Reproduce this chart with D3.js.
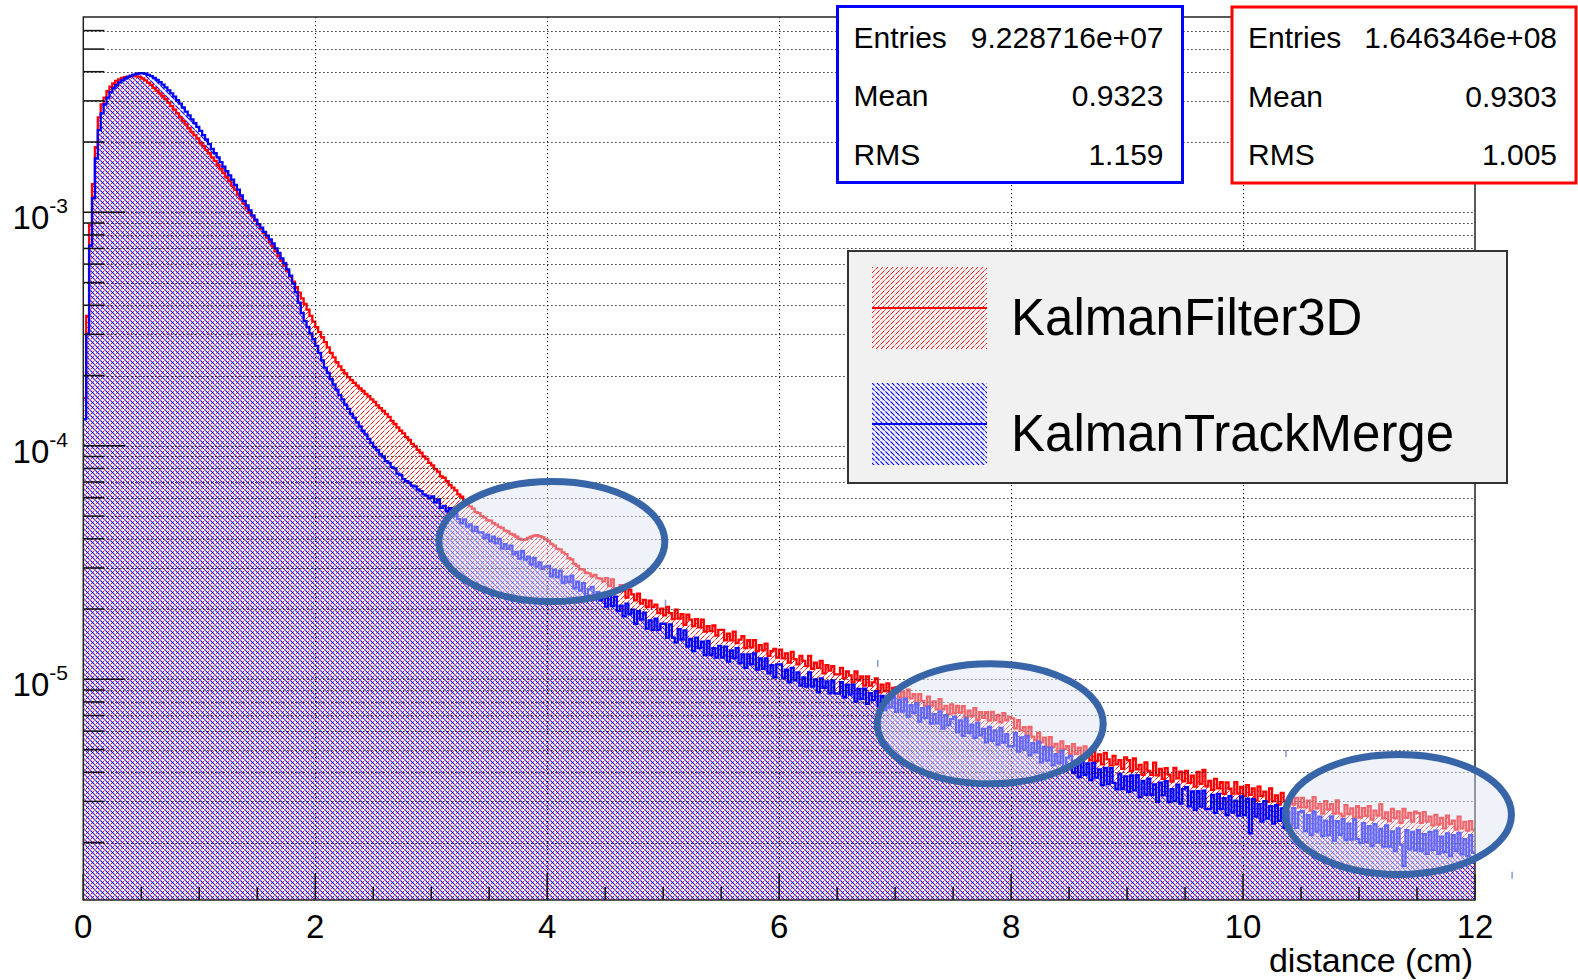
<!DOCTYPE html>
<html>
<head>
<meta charset="utf-8">
<script src="https://cdn.jsdelivr.net/npm/d3@7"></script>
<style>
    body { margin: 0; background: #ffffff; }
    svg { display: block; font-family: "Liberation Sans", Arial, Helvetica, sans-serif; }
</style>
</head>
<body>
<svg id="chart" width="1578" height="980"></svg>
<script>
var width = 1578,
    height = 980;

// histogram binning (cm)
var binWidth = 0.025;
var xDomain = [0, 12];
var yDomain = [1.135e-6, 6.86e-3];

// KalmanFilter3D (red), one value per 0.025 cm bin, 20 bins per line
var redValues = [
    1.6e-4, 3.6e-4, 8.8e-4, 1.32e-3, 1.9e-3, 2.55e-3, 2.9e-3, 3.1e-3, 3.3e-3, 3.45e-3, 3.56e-3, 3.65e-3, 3.71e-3, 3.76e-3, 3.79e-3, 3.81e-3, 3.83e-3, 3.84e-3, 3.82e-3, 3.79e-3,
    3.74e-3, 3.67e-3, 3.59e-3, 3.51e-3, 3.41e-3, 3.32e-3, 3.23e-3, 3.14e-3, 3.05e-3, 2.95e-3, 2.85e-3, 2.75e-3, 2.65e-3, 2.55e-3, 2.46e-3, 2.38e-3, 2.29e-3, 2.21e-3, 2.14e-3, 2.07e-3,
    1.98e-3, 1.92e-3, 1.85e-3, 1.79e-3, 1.72e-3, 1.66e-3, 1.59e-3, 1.53e-3, 1.47e-3, 1.41e-3, 1.36e-3, 1.3e-3, 1.25e-3, 1.19e-3, 1.14e-3, 1.09e-3, 1.04e-3, 9.95e-4, 9.6e-4, 9.2e-4,
    8.85e-4, 8.5e-4, 8.15e-4, 7.8e-4, 7.45e-4, 7.15e-4, 6.8e-4, 6.5e-4, 6.2e-4, 5.9e-4, 5.6e-4, 5.3e-4, 5.05e-4, 4.78e-4, 4.53e-4, 4.28e-4, 4.05e-4, 3.83e-4, 3.6e-4, 3.4e-4,
    3.22e-4, 3.07e-4, 2.92e-4, 2.78e-4, 2.64e-4, 2.5e-4, 2.39e-4, 2.28e-4, 2.19e-4, 2.11e-4, 2.04e-4, 1.97e-4, 1.91e-4, 1.86e-4, 1.81e-4, 1.76e-4, 1.72e-4, 1.67e-4, 1.63e-4, 1.58e-4,
    1.54e-4, 1.49e-4, 1.45e-4, 1.41e-4, 1.37e-4, 1.33e-4, 1.28e-4, 1.24e-4, 1.2e-4, 1.16e-4, 1.13e-4, 1.09e-4, 1.06e-4, 1.02e-4, 9.95e-5, 9.6e-5, 9.35e-5, 9.0e-5, 8.8e-5, 8.45e-5,
    8.25e-5, 7.95e-5, 7.75e-5, 7.4e-5, 7.3e-5, 7.05e-5, 6.8e-5, 6.62e-5, 6.45e-5, 6.2e-5, 6.05e-5, 5.8e-5, 5.7e-5, 5.5e-5, 5.38e-5, 5.2e-5, 5.15e-5, 5.0e-5, 4.93e-5, 4.8e-5,
    4.78e-5, 4.66e-5, 4.6e-5, 4.5e-5, 4.45e-5, 4.33e-5, 4.3e-5, 4.2e-5, 4.16e-5, 4.08e-5, 4.0e-5, 3.96e-5, 3.97e-5, 4.03e-5, 4.08e-5, 4.12e-5, 4.14e-5, 4.1e-5, 4.06e-5, 3.98e-5,
    3.92e-5, 3.8e-5, 3.74e-5, 3.62e-5, 3.6e-5, 3.5e-5, 3.44e-5, 3.3e-5, 3.26e-5, 3.12e-5, 3.06e-5, 2.96e-5, 2.95e-5, 2.86e-5, 2.84e-5, 2.76e-5, 2.8e-5, 2.71e-5, 2.7e-5, 2.63e-5,
    2.71e-5, 2.51e-5, 2.68e-5, 2.46e-5, 2.37e-5, 2.53e-5, 2.4e-5, 2.24e-5, 2.42e-5, 2.31e-5, 2.18e-5, 2.33e-5, 2.11e-5, 2.19e-5, 2.04e-5, 2.17e-5, 2.04e-5, 2.09e-5, 1.92e-5, 2.01e-5,
    1.88e-5, 2.04e-5, 1.92e-5, 1.81e-5, 1.99e-5, 1.82e-5, 1.9e-5, 1.71e-5, 1.89e-5, 1.8e-5, 1.69e-5, 1.81e-5, 1.67e-5, 1.8e-5, 1.6e-5, 1.69e-5, 1.61e-5, 1.7e-5, 1.54e-5, 1.63e-5,
    1.63e-5, 1.47e-5, 1.57e-5, 1.47e-5, 1.6e-5, 1.43e-5, 1.48e-5, 1.53e-5, 1.36e-5, 1.47e-5, 1.37e-5, 1.47e-5, 1.32e-5, 1.4e-5, 1.33e-5, 1.42e-5, 1.26e-5, 1.32e-5, 1.35e-5, 1.24e-5,
    1.34e-5, 1.23e-5, 1.29e-5, 1.18e-5, 1.31e-5, 1.22e-5, 1.16e-5, 1.26e-5, 1.2e-5, 1.14e-5, 1.26e-5, 1.11e-5, 1.18e-5, 1.12e-5, 1.2e-5, 1.06e-5, 1.15e-5, 1.09e-5, 1.14e-5, 1.05e-5,
    1.05e-5, 1.12e-5, 1.01e-5, 1.08e-5, 1.04e-5, 9.7e-6, 1.08e-5, 9.9e-6, 1.03e-5, 9.4e-6, 1.03e-5, 9.4e-6, 9.7e-6, 1.01e-5, 8.8e-6, 9.5e-6, 8.9e-6, 9.6e-6, 8.6e-6, 9.2e-6,
    9.24e-6, 8.38e-6, 8.83e-6, 8.16e-6, 9.03e-6, 8.28e-6, 8.63e-6, 7.81e-6, 8.65e-6, 8.09e-6, 7.7e-6, 8.43e-6, 7.72e-6, 8.05e-6, 7.43e-6, 8.22e-6, 7.45e-6, 7.69e-6, 7.1e-6, 7.8e-6,
    7.15e-6, 7.7e-6, 7.2e-6, 7.67e-6, 6.89e-6, 7.34e-6, 6.94e-6, 7.53e-6, 6.71e-6, 7.23e-6, 6.84e-6, 7.23e-6, 6.65e-6, 7.26e-6, 6.69e-6, 7.04e-6, 6.55e-6, 7.16e-6, 6.68e-6, 6.9e-6,
    6.8e-6, 6.16e-6, 6.68e-6, 6.05e-6, 6.24e-6, 5.64e-6, 6.25e-6, 5.68e-6, 5.48e-6, 5.9e-6, 5.37e-6, 5.63e-6, 5.13e-6, 5.66e-6, 5.13e-6, 5.29e-6, 4.89e-6, 5.42e-6, 5.02e-6, 5.18e-6,
    4.78e-6, 5.28e-6, 4.79e-6, 5.1e-6, 4.57e-6, 5.16e-6, 4.73e-6, 4.5e-6, 4.94e-6, 4.47e-6, 4.77e-6, 4.32e-6, 4.84e-6, 4.54e-6, 4.28e-6, 4.7e-6, 4.32e-6, 4.51e-6, 4.14e-6, 4.63e-6,
    4.51e-6, 4.05e-6, 4.58e-6, 4.12e-6, 4.3e-6, 3.9e-6, 4.41e-6, 4.05e-6, 3.9e-6, 4.4e-6, 3.88e-6, 4.13e-6, 3.75e-6, 4.17e-6, 3.91e-6, 3.65e-6, 4.18e-6, 3.77e-6, 4.02e-6, 3.66e-6,
    4.05e-6, 3.6e-6, 3.87e-6, 3.47e-6, 4.01e-6, 3.57e-6, 4.09e-6, 3.48e-6, 3.67e-6, 3.36e-6, 3.75e-6, 3.41e-6, 3.63e-6, 3.23e-6, 3.62e-6, 3.4e-6, 3.24e-6, 3.63e-6, 3.24e-6, 3.46e-6,
    3.17e-6, 3.52e-6, 3.2e-6, 3.41e-6, 3.03e-6, 3.47e-6, 3.16e-6, 3.3e-6, 2.99e-6, 3.41e-6, 3.01e-6, 3.18e-6, 2.91e-6, 3.26e-6, 3.0e-6, 2.83e-6, 3.17e-6, 2.91e-6, 3.11e-6, 2.83e-6,
    3.11e-6, 2.83e-6, 3.02e-6, 2.74e-6, 3.13e-6, 2.8e-6, 2.93e-6, 2.66e-6, 3.01e-6, 2.77e-6, 2.92e-6, 2.66e-6, 3.03e-6, 2.66e-6, 2.59e-6, 2.89e-6, 2.65e-6, 2.8e-6, 2.55e-6, 2.86e-6,
    2.56e-6, 2.81e-6, 2.6e-6, 2.86e-6, 2.51e-6, 2.74e-6, 2.61e-6, 2.92e-6, 2.54e-6, 2.69e-6, 2.47e-6, 2.79e-6, 2.54e-6, 2.72e-6, 2.43e-6, 2.79e-6, 2.55e-6, 2.68e-6, 2.46e-6, 2.71e-6,
    2.67e-6, 2.43e-6, 2.7e-6, 2.46e-6, 2.58e-6, 2.37e-6, 2.63e-6, 2.39e-6, 2.55e-6, 2.3e-6, 2.61e-6, 2.4e-6, 2.48e-6, 2.27e-6, 2.58e-6, 2.3e-6, 2.45e-6, 2.25e-6, 2.47e-6, 2.27e-6
];

// KalmanTrackMerge (blue), one value per 0.025 cm bin, 20 bins per line
var blueValues = [
    1.3e-4, 3.0e-4, 7.2e-4, 1.15e-3, 1.7e-3, 2.25e-3, 2.65e-3, 2.9e-3, 3.1e-3, 3.27e-3, 3.4e-3, 3.5e-3, 3.6e-3, 3.67e-3, 3.74e-3, 3.8e-3, 3.85e-3, 3.89e-3, 3.92e-3, 3.94e-3,
    3.94e-3, 3.92e-3, 3.88e-3, 3.83e-3, 3.76e-3, 3.69e-3, 3.61e-3, 3.52e-3, 3.43e-3, 3.33e-3, 3.23e-3, 3.13e-3, 3.02e-3, 2.92e-3, 2.81e-3, 2.7e-3, 2.6e-3, 2.5e-3, 2.41e-3, 2.32e-3,
    2.23e-3, 2.14e-3, 2.05e-3, 1.96e-3, 1.87e-3, 1.79e-3, 1.72e-3, 1.64e-3, 1.57e-3, 1.5e-3, 1.44e-3, 1.38e-3, 1.31e-3, 1.25e-3, 1.18e-3, 1.12e-3, 1.07e-3, 1.02e-3, 9.7e-4, 9.3e-4,
    8.9e-4, 8.6e-4, 8.25e-4, 7.95e-4, 7.65e-4, 7.35e-4, 7.0e-4, 6.7e-4, 6.35e-4, 6.05e-4, 5.7e-4, 5.35e-4, 4.95e-4, 4.55e-4, 4.1e-4, 3.7e-4, 3.42e-4, 3.22e-4, 3.03e-4, 2.86e-4,
    2.68e-4, 2.5e-4, 2.32e-4, 2.16e-4, 2.05e-4, 1.93e-4, 1.83e-4, 1.74e-4, 1.65e-4, 1.58e-4, 1.5e-4, 1.44e-4, 1.37e-4, 1.32e-4, 1.26e-4, 1.21e-4, 1.16e-4, 1.12e-4, 1.07e-4, 1.03e-4,
    9.9e-5, 9.6e-5, 9.2e-5, 9.0e-5, 8.6e-5, 8.45e-5, 8.1e-5, 8.0e-5, 7.6e-5, 7.5e-5, 7.2e-5, 7.05e-5, 6.95e-5, 6.75e-5, 6.7e-5, 6.5e-5, 6.4e-5, 6.2e-5, 6.12e-5, 5.95e-5,
    6.07e-5, 5.73e-5, 5.89e-5, 5.43e-5, 5.53e-5, 5.24e-5, 5.41e-5, 4.97e-5, 5.12e-5, 4.85e-5, 4.66e-5, 4.84e-5, 4.51e-5, 4.61e-5, 4.31e-5, 4.5e-5, 4.26e-5, 4.26e-5, 4.03e-5, 4.16e-5,
    3.9e-5, 4.08e-5, 3.82e-5, 3.99e-5, 3.63e-5, 3.79e-5, 3.62e-5, 3.74e-5, 3.43e-5, 3.51e-5, 3.29e-5, 3.55e-5, 3.26e-5, 3.35e-5, 3.1e-5, 3.31e-5, 3.04e-5, 3.17e-5, 2.97e-5, 3.04e-5,
    3.06e-5, 2.76e-5, 2.95e-5, 2.74e-5, 2.92e-5, 2.58e-5, 2.75e-5, 2.61e-5, 2.78e-5, 2.45e-5, 2.62e-5, 2.4e-5, 2.58e-5, 2.27e-5, 2.43e-5, 2.49e-5, 2.2e-5, 2.36e-5, 2.18e-5, 2.3e-5,
    2.05e-5, 2.28e-5, 2.06e-5, 2.26e-5, 1.96e-5, 2.07e-5, 1.86e-5, 2.11e-5, 1.9e-5, 1.99e-5, 1.73e-5, 1.96e-5, 1.8e-5, 1.93e-5, 1.65e-5, 1.79e-5, 1.63e-5, 1.82e-5, 1.63e-5, 1.73e-5,
    1.73e-5, 1.51e-5, 1.72e-5, 1.51e-5, 1.44e-5, 1.64e-5, 1.48e-5, 1.62e-5, 1.38e-5, 1.49e-5, 1.32e-5, 1.51e-5, 1.36e-5, 1.45e-5, 1.27e-5, 1.46e-5, 1.27e-5, 1.36e-5, 1.24e-5, 1.39e-5,
    1.24e-5, 1.38e-5, 1.19e-5, 1.33e-5, 1.23e-5, 1.36e-5, 1.17e-5, 1.28e-5, 1.12e-5, 1.28e-5, 1.16e-5, 1.29e-5, 1.1e-5, 1.23e-5, 1.11e-5, 1.23e-5, 1.06e-5, 1.15e-5, 1.02e-5, 1.16e-5,
    1.16e-5, 1.01e-5, 1.1e-5, 9.7e-6, 1.12e-5, 9.9e-6, 1.07e-5, 9.4e-6, 1.02e-5, 9.3e-6, 1.07e-5, 9.3e-6, 1.0e-5, 8.8e-6, 1.01e-5, 9.2e-6, 9.8e-6, 8.7e-6, 9.9e-6, 8.7e-6,
    8.69e-6, 9.72e-6, 8.38e-6, 9.48e-6, 8.6e-6, 9.5e-6, 8.03e-6, 9.09e-6, 8.25e-6, 9.12e-6, 7.86e-6, 8.72e-6, 8.14e-6, 8.9e-6, 7.68e-6, 8.5e-6, 7.39e-6, 8.45e-6, 7.59e-6, 8.4e-6,
    7.25e-6, 8.19e-6, 7.28e-6, 8.27e-6, 6.92e-6, 7.75e-6, 7.16e-6, 7.89e-6, 6.59e-6, 7.53e-6, 6.82e-6, 7.66e-6, 6.47e-6, 7.1e-6, 6.48e-6, 7.29e-6, 6.15e-6, 7.02e-6, 6.36e-6, 6.76e-6,
    6.9e-6, 5.95e-6, 6.67e-6, 5.73e-6, 6.81e-6, 5.89e-6, 6.4e-6, 5.61e-6, 6.53e-6, 5.76e-6, 6.13e-6, 5.37e-6, 6.26e-6, 5.45e-6, 6.05e-6, 5.26e-6, 6.19e-6, 5.36e-6, 5.82e-6, 5.17e-6,
    5.17e-6, 5.88e-6, 4.9e-6, 5.64e-6, 5.0e-6, 5.72e-6, 4.73e-6, 5.33e-6, 4.87e-6, 5.41e-6, 4.41e-6, 5.13e-6, 4.49e-6, 5.1e-6, 4.29e-6, 4.78e-6, 4.37e-6, 4.95e-6, 4.05e-6, 4.62e-6,
    4.7e-6, 3.97e-6, 4.48e-6, 3.81e-6, 4.61e-6, 3.9e-6, 4.36e-6, 3.7e-6, 4.39e-6, 3.79e-6, 4.11e-6, 3.52e-6, 4.18e-6, 3.56e-6, 4.17e-6, 3.6e-6, 3.38e-6, 3.94e-6, 3.39e-6, 3.84e-6,
    3.3e-6, 3.88e-6, 3.35e-6, 3.89e-6, 3.13e-6, 3.67e-6, 3.2e-6, 3.76e-6, 3.2e-6, 3.55e-6, 2.99e-6, 3.61e-6, 3.19e-6, 3.66e-6, 2.98e-6, 3.39e-6, 3.01e-6, 3.54e-6, 2.94e-6, 3.39e-6,
    3.45e-6, 2.86e-6, 3.31e-6, 2.76e-6, 3.32e-6, 2.85e-6, 3.34e-6, 2.78e-6, 2.79e-6, 3.2e-6, 2.68e-6, 3.23e-6, 2.78e-6, 3.1e-6, 2.62e-6, 3.16e-6, 2.69e-6, 3.02e-6, 2.61e-6, 3.15e-6,
    2.62e-6, 3.08e-6, 2.19e-6, 3.07e-6, 2.58e-6, 2.92e-6, 2.46e-6, 3.01e-6, 2.53e-6, 2.86e-6, 2.41e-6, 2.89e-6, 2.48e-6, 2.8e-6, 2.31e-6, 2.71e-6, 2.37e-6, 2.81e-6, 2.31e-6, 2.7e-6,
    2.73e-6, 2.24e-6, 2.62e-6, 2.16e-6, 2.71e-6, 2.23e-6, 2.58e-6, 2.13e-6, 2.48e-6, 2.15e-6, 2.59e-6, 2.04e-6, 2.47e-6, 2.16e-6, 2.52e-6, 2.05e-6, 2.41e-6, 2.06e-6, 2.51e-6, 2.07e-6,
    1.99e-6, 2.42e-6, 2.01e-6, 2.35e-6, 1.93e-6, 2.4e-6, 2.0e-6, 2.29e-6, 1.92e-6, 2.37e-6, 1.92e-6, 2.23e-6, 1.84e-6, 2.3e-6, 1.96e-6, 1.59e-6, 2.26e-6, 1.87e-6, 2.22e-6, 1.85e-6,
    2.26e-6, 1.84e-6, 2.17e-6, 1.79e-6, 2.22e-6, 1.86e-6, 2.25e-6, 1.79e-6, 2.12e-6, 1.82e-6, 2.19e-6, 1.75e-6, 2.15e-6, 1.84e-6, 2.2e-6, 1.78e-6, 2.07e-6, 1.75e-6, 2.15e-6, 1.81e-6
];

var xTickValues = [0, 2, 4, 6, 8, 10, 12];
var xMinorStep = 0.5;
var yDecades = [-6, -5, -4, -3];
var yLabelDecades = [-5, -4, -3];
var xTitle = "distance (cm)";

var statLabels = ["Entries", "Mean", "RMS"];
var blueStats = ["9.228716e+07", "0.9323", "1.159"];
var redStats = ["1.646346e+08", "0.9303", "1.005"];
var legendNames = ["KalmanFilter3D", "KalmanTrackMerge"];

// hand drawn ovals over the plot: [distance, value]
var ovalCenters = [[4.04, 3.89e-5], [7.82, 6.45e-6], [11.34, 2.64e-6]];
// small stray marks on the slide
var strayMarks = [[5.02, 2.12e-5], [6.85, 1.17e-5], [10.37, 4.81e-6], [12.32, 1.45e-6]];

var plotLeft = 83.3,
    plotRight = 1475,
    plotTop = 17,
    plotBottom = 900;

var x = d3.scaleLinear().domain(xDomain).range([plotLeft, plotRight]);
var y = d3.scaleLog().domain(yDomain).range([plotBottom, plotTop]);

var svg = d3.select("#chart");
svg.append("rect").attr("width", width).attr("height", height).attr("fill", "#ffffff");

var defs = svg.append("defs");
defs.append("clipPath").attr("id", "plot-clip")
    .append("rect")
    .attr("x", plotLeft).attr("y", plotTop)
    .attr("width", plotRight - plotLeft).attr("height", plotBottom - plotTop);

function makePattern(id, color, d, w) {
    var p = defs.append("pattern")
        .attr("id", id)
        .attr("patternUnits", "userSpaceOnUse")
        .attr("width", 5)
        .attr("height", 5);
    p.append("path")
        .attr("d", d)
        .attr("stroke", color)
        .attr("stroke-width", w)
        .attr("fill", "none");
}
makePattern("hatch-red", "#ff0000", "M0.4,4.6L4.6,0.4", 0.95);
makePattern("hatch-blue", "#0000ff", "M0.4,0.4L4.6,4.6", 1.1);

function stepPoints(vals) {
    var pts = vals.map(function (v, i) {
        return [i * binWidth, v];
    });
    pts.push([vals.length * binWidth, vals[vals.length - 1]]);
    return pts;
}

var area = d3.area()
    .curve(d3.curveStepAfter)
    .x(function (d) { return x(d[0]); })
    .y0(plotBottom)
    .y1(function (d) { return y(d[1]); });

var line = d3.line()
    .curve(d3.curveStepAfter)
    .x(function (d) { return x(d[0]); })
    .y(function (d) { return y(d[1]); });

var series = [
    { name: legendNames[0], values: redValues, color: "#ff0000", hatch: "url(#hatch-red)" },
    { name: legendNames[1], values: blueValues, color: "#0000ff", hatch: "url(#hatch-blue)" }
];

var plot = svg.append("g").attr("clip-path", "url(#plot-clip)");

plot.selectAll("path.fill")
    .data(series)
    .join("path")
    .attr("class", "fill")
    .attr("d", function (s) { return area(stepPoints(s.values)); })
    .attr("fill", function (s) { return s.hatch; });

plot.selectAll("path.outline")
    .data(series)
    .join("path")
    .attr("class", "outline")
    .attr("d", function (s) { return line(stepPoints(s.values)); })
    .attr("fill", "none")
    .attr("stroke", function (s) { return s.color; })
    .attr("stroke-width", 2.3);

// log ticks 1..9 x 10^n
var yTicks = [];
yDecades.forEach(function (e) {
    for (var m = 1; m <= 9; m++) {
        var v = m * Math.pow(10, e);
        if (v >= yDomain[0] && v <= yDomain[1]) yTicks.push({ v: v, major: m == 1 });
    }
});

var grid = svg.append("g")
    .attr("stroke", "#000")
    .attr("stroke-width", 1)
    .attr("stroke-dasharray", "1.2,2.8");
grid.selectAll("line.h")
    .data(yTicks)
    .join("line")
    .attr("class", "h")
    .attr("x1", plotLeft).attr("x2", plotRight)
    .attr("y1", function (d) { return Math.round(y(d.v)) + 0.5; })
    .attr("y2", function (d) { return Math.round(y(d.v)) + 0.5; });
grid.selectAll("line.v")
    .data(xTickValues.slice(1, -1))
    .join("line")
    .attr("class", "v")
    .attr("x1", function (d) { return Math.round(x(d)) + 0.5; })
    .attr("x2", function (d) { return Math.round(x(d)) + 0.5; })
    .attr("y1", plotTop).attr("y2", plotBottom);

// axis ticks
var ticks = svg.append("g").attr("stroke", "#111").attr("stroke-width", 1.5);
ticks.selectAll("line.yt")
    .data(yTicks)
    .join("line")
    .attr("class", "yt")
    .attr("x1", plotLeft)
    .attr("x2", function (d) { return plotLeft + (d.major ? 42 : 21); })
    .attr("y1", function (d) { return y(d.v); })
    .attr("y2", function (d) { return y(d.v); });

var xMinor = d3.range(xDomain[0], xDomain[1] + 0.001, xMinorStep);
ticks.selectAll("line.xt")
    .data(xMinor)
    .join("line")
    .attr("class", "xt")
    .attr("x1", function (d) { return x(d); })
    .attr("x2", function (d) { return x(d); })
    .attr("y1", plotBottom)
    .attr("y2", function (d) { return plotBottom - (d % 2 == 0 ? 26 : 13); });

svg.append("rect")
    .attr("x", plotLeft).attr("y", plotTop)
    .attr("width", plotRight - plotLeft).attr("height", plotBottom - plotTop)
    .attr("fill", "none")
    .attr("stroke", "#222")
    .attr("stroke-width", 1.5);

// tick labels
svg.append("g").selectAll("text")
    .data(xTickValues)
    .join("text")
    .attr("x", function (d) { return x(d); })
    .attr("y", 938)
    .attr("text-anchor", "middle")
    .attr("font-size", 33)
    .attr("fill", "#000")
    .text(function (d) { return d; });

var yLab = svg.append("g").selectAll("text")
    .data(yLabelDecades)
    .join("text")
    .attr("x", 68)
    .attr("y", function (d) { return y(Math.pow(10, d)) + 17; })
    .attr("text-anchor", "end")
    .attr("font-size", 33)
    .attr("fill", "#000");
yLab.append("tspan").text("10");
yLab.append("tspan")
    .attr("dy", -16)
    .attr("font-size", 21)
    .text(function (d) { return d; });

svg.append("text")
    .attr("x", 1473)
    .attr("y", 972)
    .attr("text-anchor", "end")
    .attr("font-size", 34)
    .attr("fill", "#000")
    .text(xTitle);

// stats boxes
function statBox(x0, y0, w, h, color, vals) {
    var g = svg.append("g");
    g.append("rect")
        .attr("x", x0).attr("y", y0).attr("width", w).attr("height", h)
        .attr("fill", "#ffffff")
        .attr("stroke", color)
        .attr("stroke-width", 3);
    g.selectAll("text.lab")
        .data(statLabels)
        .join("text")
        .attr("class", "lab")
        .attr("x", x0 + 16)
        .attr("y", function (d, i) { return y0 + 41 + i * 58.5; })
        .attr("font-size", 30)
        .text(function (d) { return d; });
    g.selectAll("text.val")
        .data(vals)
        .join("text")
        .attr("class", "val")
        .attr("x", x0 + w - 19)
        .attr("y", function (d, i) { return y0 + 41 + i * 58.5; })
        .attr("text-anchor", "end")
        .attr("font-size", 30)
        .text(function (d) { return d; });
}
statBox(837.5, 6.5, 345, 176, "#0000ff", blueStats);
statBox(1232, 7, 344, 176, "#ff0000", redStats);

// legend
var legend = svg.append("g");
legend.append("rect")
    .attr("x", 848).attr("y", 251).attr("width", 659).attr("height", 232)
    .attr("fill", "#f1f1f1")
    .attr("stroke", "#333")
    .attr("stroke-width", 2);
var entries = legend.selectAll("g.entry")
    .data(series)
    .join("g")
    .attr("class", "entry")
    .attr("transform", function (d, i) { return "translate(0," + (i * 116) + ")"; });
entries.append("rect")
    .attr("x", 872).attr("y", 267).attr("width", 115).attr("height", 82)
    .attr("fill", function (s) { return s.hatch; });
entries.append("line")
    .attr("x1", 872).attr("x2", 987).attr("y1", 308).attr("y2", 308)
    .attr("stroke", function (s) { return s.color; })
    .attr("stroke-width", 2);
entries.append("text")
    .attr("x", 1011)
    .attr("y", 335)
    .attr("font-size", 51)
    .attr("fill", "#000")
    .text(function (s) { return s.name; });

// ovals and stray marks
svg.append("g").selectAll("ellipse")
    .data(ovalCenters)
    .join("ellipse")
    .attr("cx", function (d) { return x(d[0]); })
    .attr("cy", function (d) { return y(d[1]); })
    .attr("rx", 113)
    .attr("ry", 60)
    .attr("fill", "#dce5f2")
    .attr("fill-opacity", 0.45)
    .attr("stroke", "#3864a8")
    .attr("stroke-width", 7);

svg.append("g").selectAll("line")
    .data(strayMarks)
    .join("line")
    .attr("x1", function (d) { return x(d[0]); })
    .attr("x2", function (d) { return x(d[0]); })
    .attr("y1", function (d) { return y(d[1]) - 3.5; })
    .attr("y2", function (d) { return y(d[1]) + 3.5; })
    .attr("stroke", "#7f9ccf")
    .attr("stroke-width", 1.5);
</script>
</body>
</html>
